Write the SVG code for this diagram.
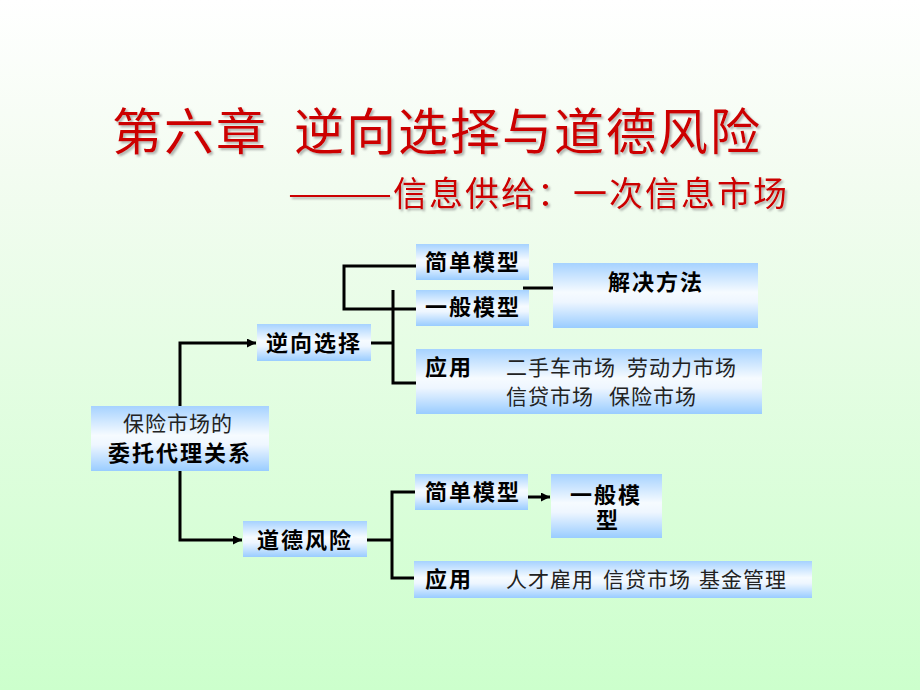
<svg xmlns="http://www.w3.org/2000/svg" width="920" height="690" viewBox="0 0 920 690">
<defs>
<linearGradient id="bg" x1="0" y1="0" x2="0" y2="1">
<stop offset="0" stop-color="#ffffff"/>
<stop offset="0.25" stop-color="#f3fcf1"/>
<stop offset="1" stop-color="#ccffcc"/>
</linearGradient>
<linearGradient id="box" x1="0" y1="0" x2="0" y2="1">
<stop offset="0" stop-color="#a6d2ff"/>
<stop offset="0.45" stop-color="#f6fbff"/>
<stop offset="0.6" stop-color="#eef6ff"/>
<stop offset="1" stop-color="#99ccff"/>
</linearGradient>
<filter id="sh" x="-5%" y="-20%" width="110%" height="140%">
<feDropShadow dx="2" dy="2" stdDeviation="1" flood-color="#777" flood-opacity="0.55"/>
</filter>
<marker id="arr" viewBox="0 0 10 10" refX="10" refY="5" markerUnits="userSpaceOnUse" markerWidth="10" markerHeight="9" orient="auto">
<path d="M0,0 L10,5 L0,10 z" fill="#000"/>
</marker>
</defs>
<style>
.b{fill:url(#box);}
.t{font-family:"Noto Sans CJK SC","Noto Sans",sans-serif;font-size:22px;font-weight:bold;fill:#000;letter-spacing:2px;}
.n{font-family:"Noto Sans CJK SC","Noto Sans",sans-serif;font-size:21px;font-weight:normal;fill:#222;letter-spacing:1px;}
.ti{font-family:"Noto Sans CJK SC","Noto Sans",sans-serif;fill:#cc0000;filter:url(#sh);}
.c{fill:none;stroke:#000;stroke-width:3;}
</style>
<rect x="0" y="0" width="920" height="690" fill="url(#bg)"/>
<g id="title">
<text class="ti" x="112" y="150" font-size="50" letter-spacing="2">第六章<tspan x="294">逆向选择与道德风险</tspan></text>
<text class="ti" x="288" y="206" font-size="34" textLength="104" lengthAdjust="spacingAndGlyphs">———</text>
<text class="ti" x="393" y="206" font-size="34" letter-spacing="2">信息供给：一次信息市场</text>
</g>
<g id="connectors">
<path class="c" d="M180,406 V343 H256" marker-end="url(#arr)"/>
<path class="c" d="M180,471 V540 H242" marker-end="url(#arr)"/>
<path class="c" d="M371,343 H393"/>
<path class="c" d="M393,290 V383 H416"/>
<path class="c" d="M416,266 H344 V309 H416"/>
<path class="c" d="M523,288 H553"/>
<path class="c" d="M367,540 H392"/>
<path class="c" d="M415,492 H392 V578 H414"/>
<path class="c" d="M528,497 H550" marker-end="url(#arr)"/>
</g>
<g id="root">
<rect class="b" x="91" y="406" width="178" height="65"/>
<text class="n" x="123" y="431" fill="#333" letter-spacing="1.5">保险市场的</text>
<text class="t" x="108" y="461" letter-spacing="1.5">委托代理关系</text>
</g>
<g id="adverse">
<rect class="b" x="257" y="324" width="114" height="37"/>
<text class="t" x="266" y="351">逆向选择</text>
</g>
<g id="simple1">
<rect class="b" x="416" y="244" width="113" height="36"/>
<text class="t" x="425" y="270">简单模型</text>
</g>
<g id="general1">
<rect class="b" x="416" y="290" width="113" height="36"/>
<text class="t" x="425" y="315">一般模型</text>
</g>
<g id="solution">
<rect class="b" x="553" y="263" width="205" height="65"/>
<text class="t" x="608" y="290">解决方法</text>
</g>
<g id="apply1">
<rect class="b" x="416" y="349" width="346" height="65"/>
<text class="t" x="425" y="375">应用</text>
<text class="n" y="375" letter-spacing="1.8"><tspan x="506">二手车市场</tspan><tspan x="627">劳动力市场</tspan></text>
<text class="n" y="404" letter-spacing="1.8"><tspan x="506">信贷市场</tspan><tspan x="609">保险市场</tspan></text>
</g>
<g id="moral">
<rect class="b" x="243" y="521" width="124" height="36"/>
<text class="t" x="257" y="548">道德风险</text>
</g>
<g id="simple2">
<rect class="b" x="415" y="474" width="113" height="36"/>
<text class="t" x="425" y="500">简单模型</text>
</g>
<g id="general2">
<rect class="b" x="551" y="474" width="111" height="64"/>
<text class="t"><tspan x="570" y="503">一般模</tspan><tspan x="596" y="528">型</tspan></text>
</g>
<g id="apply2">
<rect class="b" x="414" y="561" width="398" height="37"/>
<text class="t" x="425" y="587">应用</text>
<text class="n" y="587" letter-spacing="1.2"><tspan x="506">人才雇用</tspan><tspan x="603">信贷市场</tspan><tspan x="699">基金管理</tspan></text>
</g>
</svg>
